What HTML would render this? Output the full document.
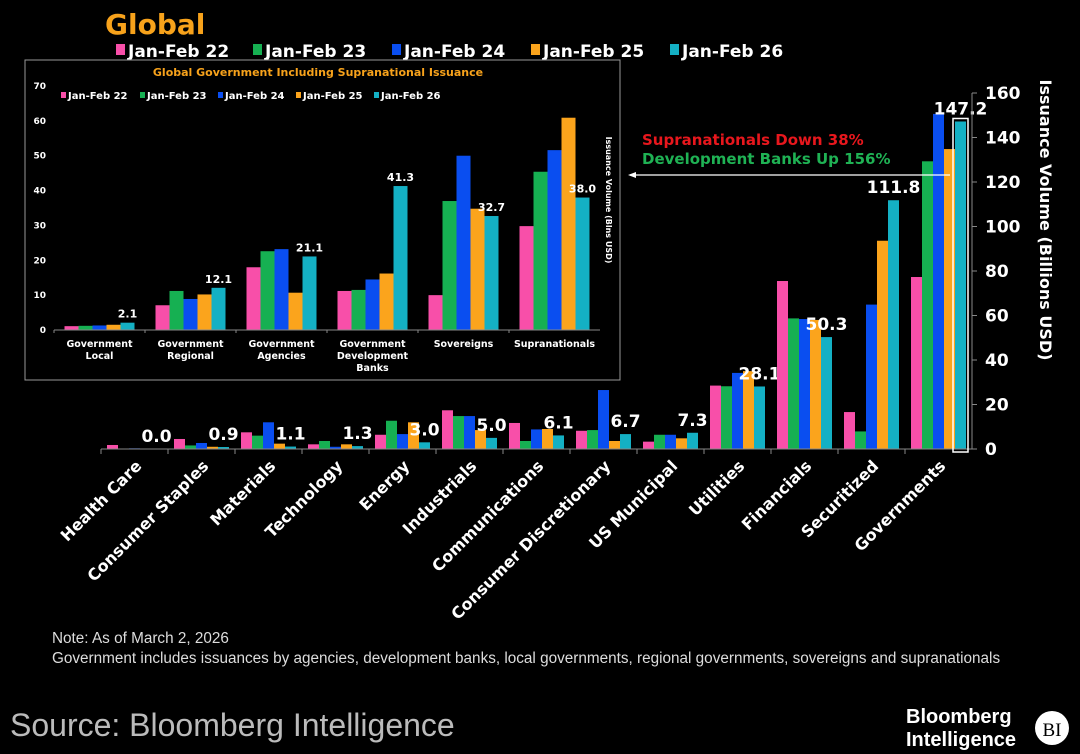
<!DOCTYPE html>
<html><head><meta charset="utf-8">
<style>
html,body{margin:0;padding:0;background:#000;}
svg{display:block;font-family:"DejaVu Sans","Liberation Sans",sans-serif;}
</style></head>
<body>
<svg id="chart" width="1080" height="754" viewBox="0 0 1080 754" xmlns="http://www.w3.org/2000/svg">
<rect width="1080" height="754" fill="#000"/>
<text x="105" y="34" font-size="28" font-weight="bold" fill="#f7a21b">Global</text>
<g id="legend"></g>
<g id="main"></g>
<g id="inset"></g>
<text x="642" y="145" font-size="15" font-weight="bold" fill="#e8171d">Supranationals Down 38%</text>
<text x="642" y="164" font-size="15" font-weight="bold" fill="#1fb254">Development Banks Up 156%</text>
<line x1="630" y1="175" x2="950" y2="175" stroke="#fff" stroke-width="1.2"/>
<path d="M628 175 L636 172 L636 178 Z" fill="#fff"/>
<text x="52" y="643" font-size="15.3" fill="#ddd" font-family="Liberation Sans, sans-serif">Note: As of March 2, 2026</text>
<text x="52" y="663" font-size="15.3" fill="#ddd" font-family="Liberation Sans, sans-serif">Government includes issuances by agencies, development banks, local governments, regional governments, sovereigns and supranationals</text>
<text x="10" y="736" font-size="32" fill="#bbb" font-family="Liberation Sans, sans-serif">Source: Bloomberg Intelligence</text>
<text x="906" y="723" font-size="20" font-weight="bold" fill="#fff" font-family="Liberation Sans, sans-serif">Bloomberg</text>
<text x="906" y="746" font-size="20" font-weight="bold" fill="#fff" font-family="Liberation Sans, sans-serif">Intelligence</text>
<circle cx="1052" cy="728" r="17" fill="#fff"/>
<text x="1052" y="736" font-size="19" fill="#000" text-anchor="middle" font-family="Liberation Serif, serif">BI</text>
</svg>
<script>
const seriesNames = ["Jan-Feb 22","Jan-Feb 23","Jan-Feb 24","Jan-Feb 25","Jan-Feb 26"];
const colors = ["#f84fa9","#16b052","#0a4ef0","#fba41c","#14b0c4"];
const categories = ["Health Care","Consumer Staples","Materials","Technology","Energy","Industrials","Communications","Consumer Discretionary","US Municipal","Utilities","Financials","Securitized","Governments"];
const s22 = [1.8,4.5,7.5,2.1,6.4,17.4,11.7,8.2,3.3,28.5,75.5,16.6,77.3];
const s23 = [0.0,1.6,6.0,3.6,12.7,14.8,3.6,8.5,6.4,28.2,58.7,7.9,129.3];
const s24 = [0.3,2.7,12.0,1.0,6.7,14.8,8.8,26.5,6.4,34.2,58.4,64.9,150.6];
const s25 = [0.0,1.0,2.4,2.1,12.0,8.5,9.0,3.6,4.8,35.0,58.0,93.6,134.8];
const s26 = [0.0,0.9,1.1,1.3,3.0,5.0,6.1,6.7,7.3,28.1,50.3,111.8,147.2];
const yTicks = [0,20,40,60,80,100,120,140,160];

const inCategories = [["Government","Local"],["Government","Regional"],["Government","Agencies"],["Government","Development","Banks"],["Sovereigns"],["Supranationals"]];
const in22 = [1.1,7.1,18.0,11.2,10.0,29.8];
const in23 = [1.2,11.2,22.6,11.5,37.0,45.4];
const in24 = [1.3,8.9,23.2,14.5,50.0,51.6];
const in25 = [1.5,10.2,10.7,16.2,34.8,60.9];
const in26 = [2.1,12.1,21.1,41.3,32.7,38.0];
const inTicks = [0,10,20,30,40,50,60,70];

const NS="http://www.w3.org/2000/svg";
function mk(parent,tag,attrs,text){const e=document.createElementNS(NS,tag);for(const k in attrs)e.setAttribute(k,attrs[k]);if(text!==undefined)e.textContent=text;parent.appendChild(e);return e;}

const lg=document.getElementById('legend');
const lgX=[116,253,392,531,670];
seriesNames.forEach((n,i)=>{
  const r=mk(lg,'rect',{x:lgX[i],y:44,width:9,height:11,fill:colors[i]});
  
  
  const t=mk(lg,'text',{x:lgX[i]+12,y:57,'font-size':17,'font-weight':'bold',fill:'#fff'},n);
  
  
});

const mg=document.getElementById('main');
const X0=101,X1=972,Y0=449,Y160=93;
const band=(X1-X0)/categories.length;
const yS=v=>Y0-(v/160)*(Y0-Y160);
const allS=[s22,s23,s24,s25,s26];
const bw=11;
categories.forEach((c,ci)=>{
  const bx=X0+ci*band+(band-5*bw)/2;
  allS.forEach((s,si)=>{
    const y=yS(s[ci]);
    const r=mk(mg,'rect',{x:bx+si*bw,y:y,width:bw,height:Math.max(0,Y0-y),fill:colors[si]});
    
    
  });
  const lx=bx+4.5*bw;
  const lbl=mk(mg,'text',{x:lx,y:yS(s26[ci])-7,'font-size':17,'font-weight':'bold',fill:'#fff','text-anchor':'middle'},s26[ci].toFixed(1));
  
  
  const cx=X0+ci*band+band/2+8;
  const ct=mk(mg,'text',{x:cx,y:467,'font-size':16,'font-weight':'bold',fill:'#fff','text-anchor':'end',transform:'rotate(-45 '+cx+' 467)'},c);
  
  
  const tk=mk(mg,'line',{x1:X0+ci*band,y1:Y0,x2:X0+ci*band,y2:Y0+5,stroke:'#888'});
  
  
});
const xa=mk(mg,'line',{x1:X0,y1:Y0,x2:X1,y2:Y0,stroke:'#888'});


const ya=mk(mg,'line',{x1:X1,y1:Y160,x2:X1,y2:Y0,stroke:'#888'});


yTicks.forEach(v=>{
  const t=mk(mg,'line',{x1:X1,y1:yS(v),x2:X1+5,y2:yS(v),stroke:'#888'});
  
  
  const l=mk(mg,'text',{x:985,y:yS(v)+6,'font-size':17,'font-weight':'bold',fill:'#fff'},v);
  
  
});
const yt=mk(mg,'text',{x:1040,y:220,'font-size':16,'font-weight':'bold',fill:'#fff','text-anchor':'middle',transform:'rotate(90 1040 220)'},'Issuance Volume (Billions USD)');


const hbx=X0+12*band+(band-5*bw)/2+4*bw;
const hb=mk(mg,'rect',{x:hbx-2,y:yS(s26[12])-3,width:bw+4,height:Y0-yS(s26[12])+6,fill:'none',stroke:'#fff','stroke-width':1.5});



const ig=document.getElementById('inset');
const box=mk(ig,'rect',{x:25,y:60,width:595,height:320,fill:'#000',stroke:'#999','stroke-width':1});


const it=mk(ig,'text',{x:318,y:76,'font-size':11,'font-weight':'bold',fill:'#f7a21b','text-anchor':'middle'},'Global Government Including Supranational Issuance');


const ilX=[61,140,218,296,374];
seriesNames.forEach((n,i)=>{
  const r=mk(ig,'rect',{x:ilX[i],y:92,width:5,height:6,fill:colors[i]});
  
  
  const t=mk(ig,'text',{x:ilX[i]+7,y:99,'font-size':10,'font-weight':'bold',fill:'#fff'},n);
  
  
});
const IX0=54,IX1=600,IY0=330,IY70=86;
const iband=(IX1-IX0)/inCategories.length;
const iy=v=>IY0-(v/70)*(IY0-IY70);
const inS=[in22,in23,in24,in25,in26];
const ibw=14;
inCategories.forEach((c,ci)=>{
  const bx=IX0+ci*iband+(iband-5*ibw)/2;
  inS.forEach((s,si)=>{
    const y=iy(s[ci]);
    const r=mk(ig,'rect',{x:bx+si*ibw,y:y,width:ibw,height:IY0-y,fill:colors[si]});
    
    
  });
  const vl=mk(ig,'text',{x:bx+4.5*ibw,y:iy(in26[ci])-5,'font-size':11,'font-weight':'bold',fill:'#fff','text-anchor':'middle'},in26[ci].toFixed(1));
  
  
  c.forEach((line,li)=>{
    const cl=mk(ig,'text',{x:IX0+ci*iband+iband/2,y:347+li*12,'font-size':9.5,'font-weight':'bold',fill:'#fff','text-anchor':'middle'},line);
    
    
  });
  const tk=mk(ig,'line',{x1:IX0+ci*iband,y1:IY0,x2:IX0+ci*iband,y2:IY0+3,stroke:'#888'});
  
  
});
const ixa=mk(ig,'line',{x1:IX0,y1:IY0,x2:IX1,y2:IY0,stroke:'#888'});


inTicks.forEach(v=>{
  const l=mk(ig,'text',{x:46,y:iy(v)+3,'font-size':9,'font-weight':'bold',fill:'#fff','text-anchor':'end'},v);
  
  
});
const iyt=mk(ig,'text',{x:606,y:200,'font-size':8,'font-weight':'bold',fill:'#fff','text-anchor':'middle',transform:'rotate(90 606 200)'},'Issuance Volume (Blns USD)');


</script>
</body></html>
